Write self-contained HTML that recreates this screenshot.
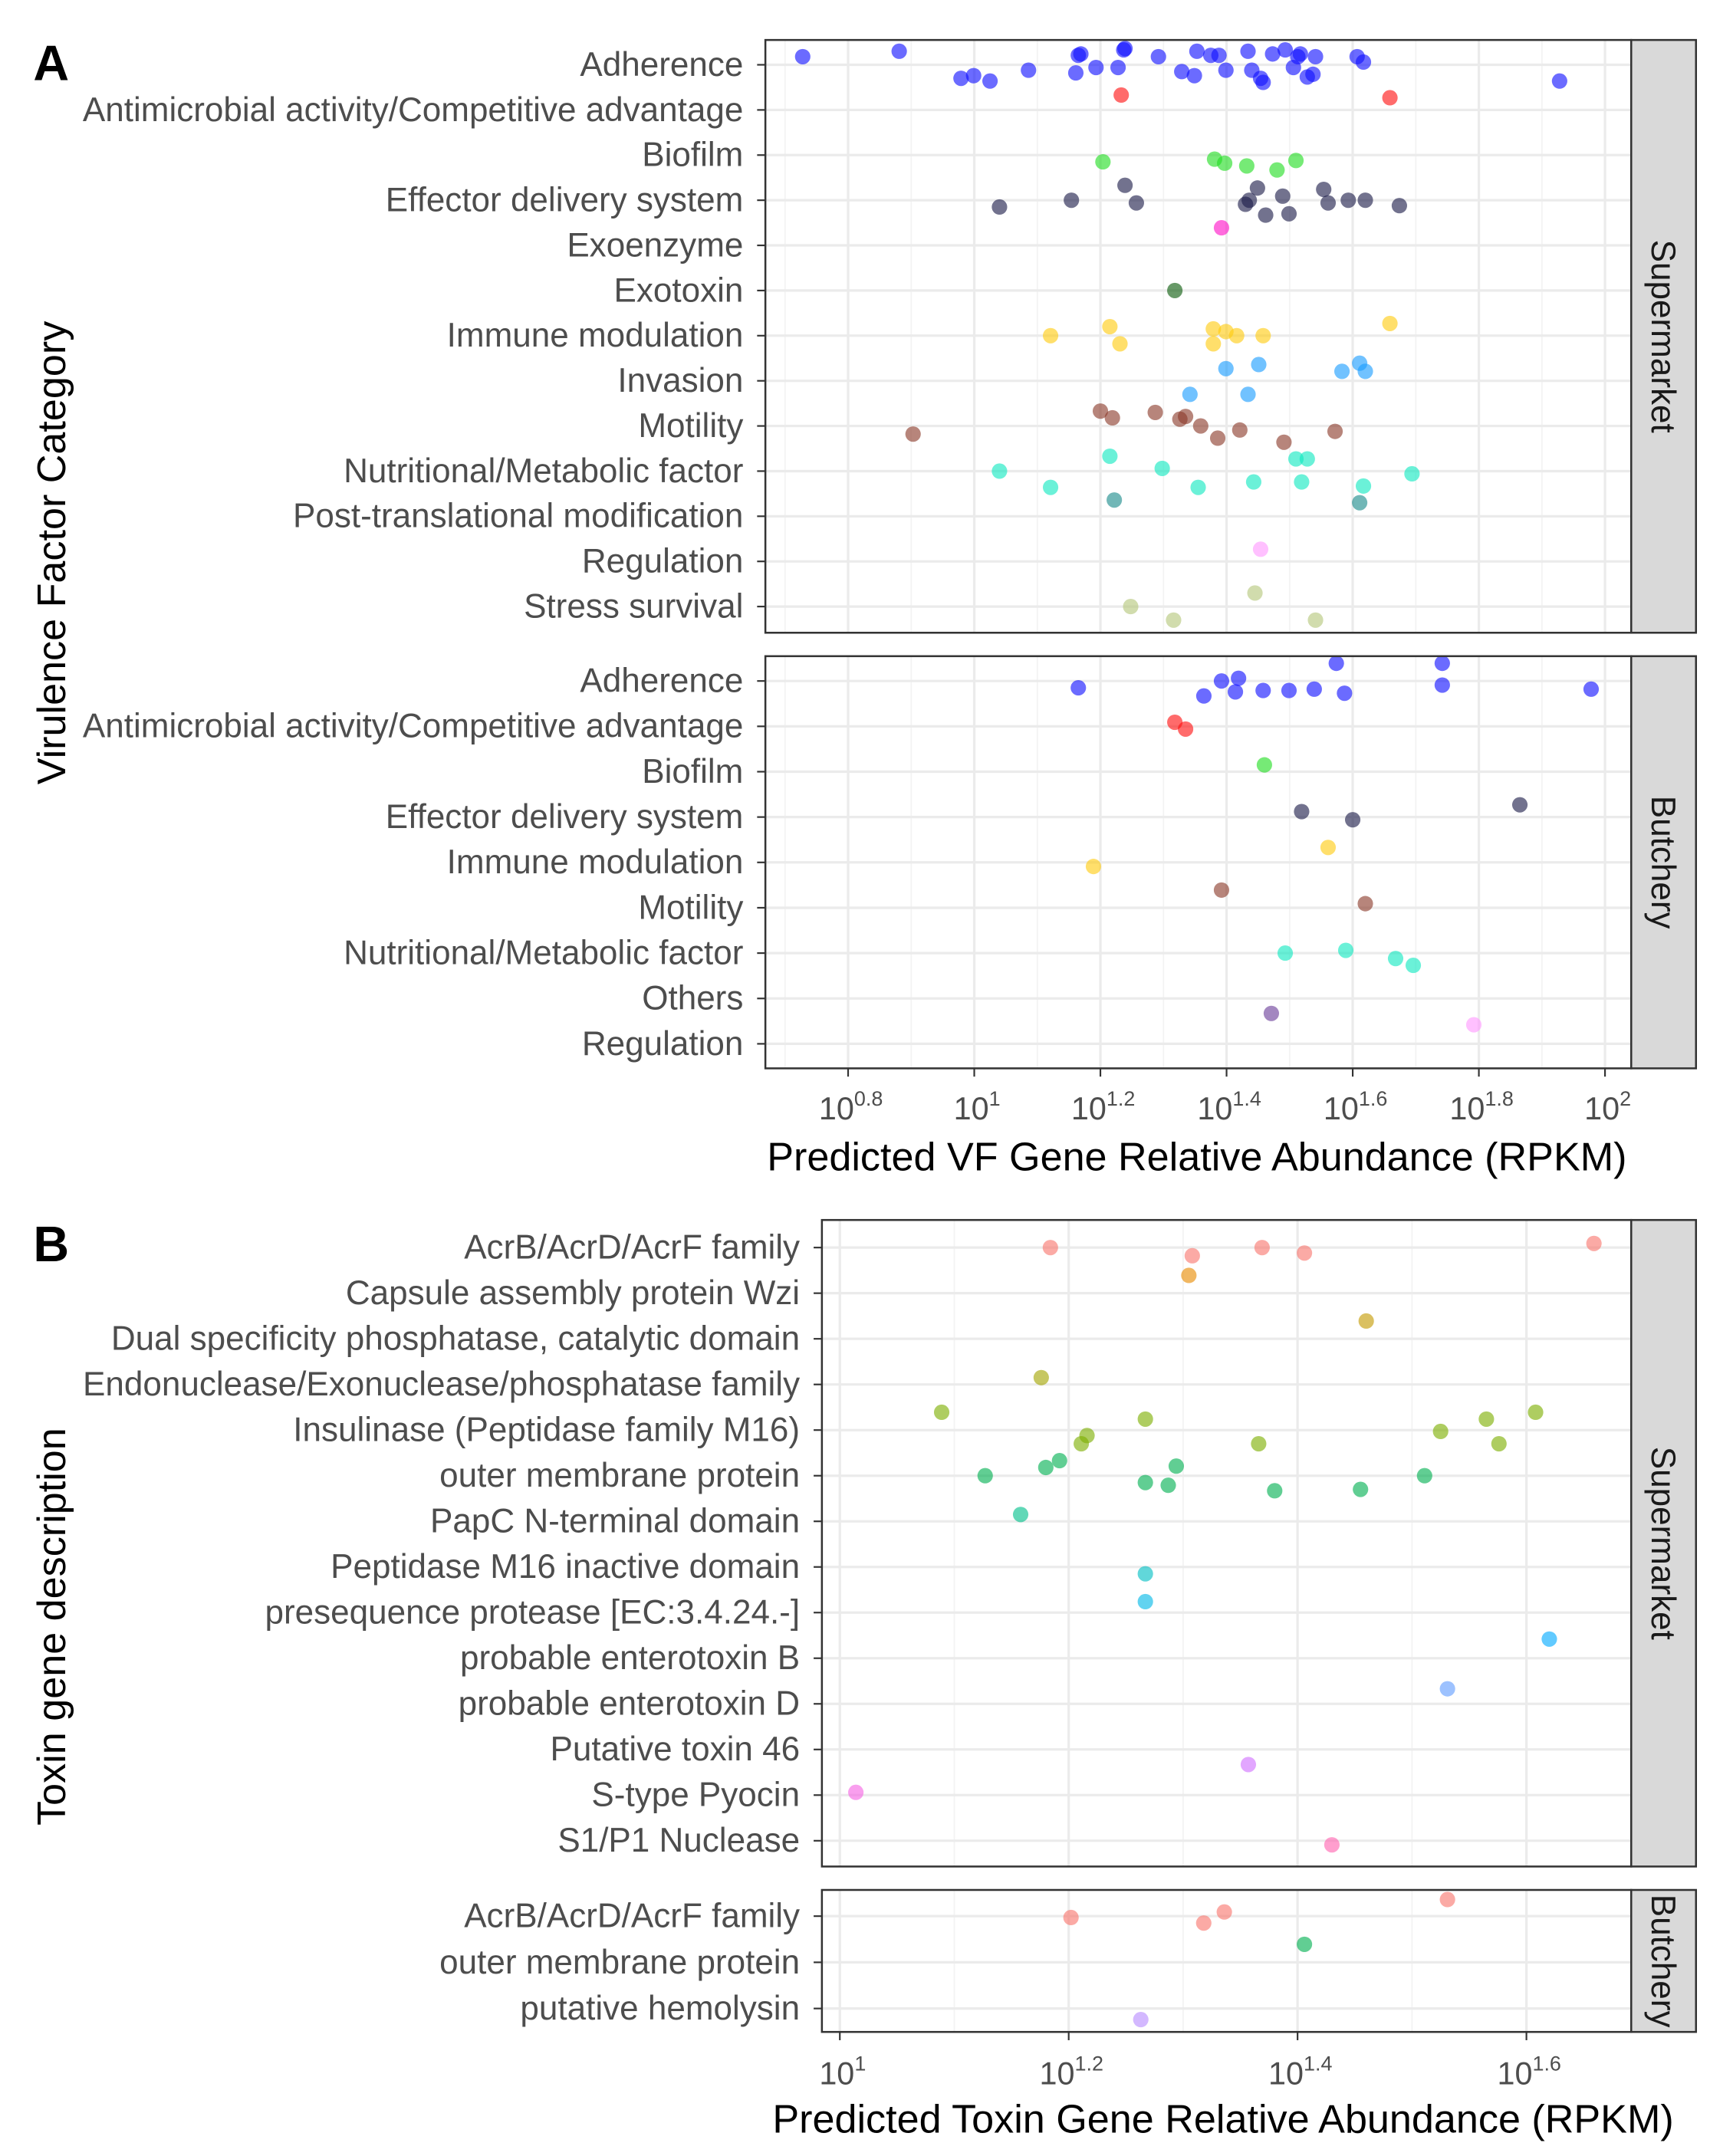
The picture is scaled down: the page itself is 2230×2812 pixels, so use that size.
<!DOCTYPE html>
<html><head><meta charset="utf-8">
<style>
html,body{margin:0;padding:0;background:#fff;}
svg{display:block;font-family:"Liberation Sans",sans-serif;}
</style></head>
<body>
<svg id="chart" width="2230" height="2812" viewBox="0 0 1240 1564" xmlns="http://www.w3.org/2000/svg">
<text x="24" y="58" font-size="36" font-weight="bold">A</text>
<text x="24" y="915" font-size="36" font-weight="bold">B</text>
<text transform="translate(47,401) rotate(-90)" text-anchor="middle" font-size="29">Virulence Factor Category</text>
<text transform="translate(47,1180) rotate(-90)" text-anchor="middle" font-size="29">Toxin gene description</text>
<text x="868" y="849" text-anchor="middle" font-size="29">Predicted VF Gene Relative Abundance (RPKM)</text>
<text x="887" y="1547" text-anchor="middle" font-size="29">Predicted Toxin Gene Relative Abundance (RPKM)</text>
<g id="plot"></g>
</svg>
<script>
// ---------- Panel A data ----------
const catsASup = ["Adherence","Antimicrobial activity/Competitive advantage","Biofilm","Effector delivery system","Exoenzyme","Exotoxin","Immune modulation","Invasion","Motility","Nutritional/Metabolic factor","Post-translational modification","Regulation","Stress survival"];
const catsABut = ["Adherence","Antimicrobial activity/Competitive advantage","Biofilm","Effector delivery system","Immune modulation","Motility","Nutritional/Metabolic factor","Others","Regulation"];
const colorsA = {"Adherence":"#1010ff","Antimicrobial activity/Competitive advantage":"#ff1010","Biofilm":"#22dd22","Effector delivery system":"#1c1c48","Exoenzyme":"#ff10c8","Exotoxin":"#0a5a0a","Immune modulation":"#ffcc10","Invasion":"#1a9cff","Motility":"#8b3a2a","Nutritional/Metabolic factor":"#10e8c0","Post-translational modification":"#1a8b8b","Regulation":"#ff99ff","Stress survival":"#b5c77a","Others":"#6a3d9a"};
const ticksA = [0.8,1.0,1.2,1.4,1.6,1.8,2.0];
const tickSupA = ["0.8","1","1.2","1.4","1.6","1.8","2"];
// [category index, log10 value, vertical jitter (row fraction)]
const ptsASup = [
[0,0.728,-0.18],[0,0.881,-0.3],[0,0.979,0.3],[0,0.999,0.24],[0,1.025,0.36],[0,1.086,0.12],[0,1.165,-0.21],[0,1.169,-0.24],[0,1.161,0.18],[0,1.193,0.06],[0,1.228,0.06],[0,1.237,-0.33],[0,1.239,-0.36],[0,1.292,-0.18],[0,1.329,0.15],[0,1.349,0.24],[0,1.353,-0.3],[0,1.375,-0.21],[0,1.388,-0.21],[0,1.399,0.12],[0,1.434,-0.3],[0,1.440,0.12],[0,1.454,0.3],[0,1.458,0.39],[0,1.473,-0.24],[0,1.493,-0.33],[0,1.506,0.06],[0,1.513,-0.18],[0,1.517,-0.24],[0,1.528,0.27],[0,1.541,-0.18],[0,1.537,0.21],[0,1.607,-0.18],[0,1.617,-0.06],[0,1.928,0.36],
[1,1.233,-0.33],[1,1.659,-0.27],
[2,1.204,0.15],[2,1.381,0.09],[2,1.397,0.18],[2,1.432,0.24],[2,1.480,0.33],[2,1.510,0.12],
[3,1.040,0.15],[3,1.154,0],[3,1.239,-0.33],[3,1.257,0.06],[3,1.430,0.09],[3,1.436,0],[3,1.449,-0.27],[3,1.462,0.33],[3,1.489,-0.09],[3,1.499,0.3],[3,1.554,-0.24],[3,1.561,0.06],[3,1.593,0],[3,1.620,0],[3,1.674,0.12],
[4,1.392,-0.39],
[5,1.318,0],
[6,1.121,0],[6,1.215,-0.2],[6,1.231,0.18],[6,1.379,-0.15],[6,1.379,0.18],[6,1.399,-0.09],[6,1.416,0],[6,1.458,0],[6,1.659,-0.27],
[7,1.342,0.3],[7,1.399,-0.27],[7,1.434,0.3],[7,1.451,-0.36],[7,1.583,-0.21],[7,1.611,-0.39],[7,1.620,-0.21],
[8,0.903,0.18],[8,1.200,-0.33],[8,1.219,-0.18],[8,1.287,-0.3],[8,1.326,-0.15],[8,1.335,-0.21],[8,1.359,0],[8,1.386,0.27],[8,1.421,0.09],[8,1.491,0.36],[8,1.572,0.12],
[9,1.040,0],[9,1.121,0.36],[9,1.215,-0.33],[9,1.298,-0.06],[9,1.355,0.36],[9,1.443,0.24],[9,1.510,-0.27],[9,1.528,-0.27],[9,1.519,0.24],[9,1.617,0.33],[9,1.694,0.06],
[10,1.222,-0.36],[10,1.611,-0.3],
[11,1.454,-0.27],
[12,1.248,0],[12,1.316,0.3],[12,1.445,-0.3],[12,1.541,0.3]
];
const ptsABut = [
[0,1.165,0.15],[0,1.364,0.33],[0,1.392,0],[0,1.414,0.24],[0,1.419,-0.06],[0,1.458,0.21],[0,1.499,0.21],[0,1.539,0.18],[0,1.574,-0.39],[0,1.587,0.27],[0,1.742,-0.39],[0,1.742,0.09],[0,1.978,0.18],
[1,1.318,-0.09],[1,1.335,0.06],
[2,1.460,-0.15],
[3,1.519,-0.12],[3,1.600,0.06],[3,1.865,-0.27],
[4,1.189,0.09],[4,1.561,-0.33],
[5,1.392,-0.39],[5,1.620,-0.09],
[6,1.493,0],[6,1.589,-0.06],[6,1.668,0.12],[6,1.696,0.27],
[7,1.471,0.33],
[8,1.792,-0.42]
];
// ---------- Panel B data ----------
const catsBSup = ["AcrB/AcrD/AcrF family","Capsule assembly protein Wzi","Dual specificity phosphatase, catalytic domain","Endonuclease/Exonuclease/phosphatase family","Insulinase (Peptidase family M16)","outer membrane protein","PapC N-terminal domain","Peptidase M16 inactive domain","presequence protease [EC:3.4.24.-]","probable enterotoxin B","probable enterotoxin D","Putative toxin 46","S-type Pyocin","S1/P1 Nuclease"];
const catsBBut = ["AcrB/AcrD/AcrF family","outer membrane protein","putative hemolysin"];
const colorsB = {"AcrB/AcrD/AcrF family":"#f8766d","Capsule assembly protein Wzi":"#e88a00","Dual specificity phosphatase, catalytic domain":"#c49a00","Endonuclease/Exonuclease/phosphatase family":"#a3a500","Insulinase (Peptidase family M16)":"#7cae00","outer membrane protein":"#00b050","PapC N-terminal domain":"#00c08b","Peptidase M16 inactive domain":"#00bfc4","presequence protease [EC:3.4.24.-]":"#00b8e7","probable enterotoxin B":"#00a9ff","probable enterotoxin D":"#619cff","Putative toxin 46":"#d070ff","S-type Pyocin":"#f564e3","S1/P1 Nuclease":"#ff64b0","putative hemolysin":"#b88cff"};
const ticksB = [1.0,1.2,1.4,1.6];
const tickSupB = ["1","1.2","1.4","1.6"];
const ptsBSup = [
[0,1.184,0],[0,1.308,0.18],[0,1.369,0],[0,1.406,0.12],[0,1.659,-0.09],
[1,1.305,-0.39],
[2,1.460,-0.39],
[3,1.176,-0.15],
[4,1.089,-0.39],[4,1.216,0.12],[4,1.211,0.3],[4,1.267,-0.24],[4,1.366,0.3],[4,1.525,0.03],[4,1.565,-0.24],[4,1.576,0.3],[4,1.608,-0.39],
[5,1.127,0],[5,1.180,-0.18],[5,1.192,-0.33],[5,1.267,0.15],[5,1.287,0.21],[5,1.294,-0.21],[5,1.380,0.33],[5,1.455,0.3],[5,1.511,0],
[6,1.158,-0.15],
[7,1.267,0.15],
[8,1.267,-0.24],
[9,1.620,-0.42],
[10,1.531,-0.33],
[11,1.357,0.33],
[12,1.014,-0.06],
[13,1.430,0.09]
];
const ptsBBut = [
[0,1.202,0.03],[0,1.318,0.15],[0,1.336,-0.09],[0,1.531,-0.36],
[1,1.406,-0.39],
[2,1.263,0.24]
];

const NS = "http://www.w3.org/2000/svg";
const root = document.getElementById("plot");
function mk(tag, attrs, parent){
  const e = document.createElementNS(NS, tag);
  for (const k in attrs) e.setAttribute(k, attrs[k]);
  (parent||root).appendChild(e);
  return e;
}

function drawPanel(o){
  const xs = v => o.x0 + (v - o.v0) * o.pxPerUnit;
  const g = mk("g", {});
  
  
  mk("rect", {x:o.left, y:o.top, width:o.right-o.left, height:o.bottom-o.top, fill:"#fff"}, g);
  for (let i=0;i<o.ticks.length-1;i++){
    const m = (o.ticks[i]+o.ticks[i+1])/2;
    mk("line",{x1:xs(m),x2:xs(m),y1:o.top,y2:o.bottom,stroke:"#f3f3f3","stroke-width":1},g);
  }
  const mBefore = o.ticks[0]-0.1, mAfter = o.ticks[o.ticks.length-1]+0.1;
  [mBefore,mAfter].forEach(m=>{ if (xs(m)>o.left && xs(m)<o.right) mk("line",{x1:xs(m),x2:xs(m),y1:o.top,y2:o.bottom,stroke:"#f3f3f3","stroke-width":1},g);});
  o.ticks.forEach(t=>{
    const gl = mk("line",{x1:xs(t),x2:xs(t),y1:o.top,y2:o.bottom,stroke:"#ebebeb","stroke-width":1.8},g);
    
    
  });
  o.cats.forEach((c,i)=>{
    const y = o.row0 + i*o.rowStep;
    const hl = mk("line",{x1:o.left,x2:o.right,y1:y,y2:y,stroke:"#ebebeb","stroke-width":1.8},g);
    
    
    mk("line",{x1:o.left-6,x2:o.left,y1:y,y2:y,stroke:"#333","stroke-width":1.2},g);
    const t = mk("text",{x:o.left-16,y:y+8,"text-anchor":"end","font-size":24.5,fill:"#4d4d4d"},g);
    t.textContent = c;
    
    
  });
  o.pts.forEach(p=>{
    const cat = o.cats[p[0]];
    const c = mk("circle",{cx:xs(p[1]),cy:o.row0 + (p[0]+p[2])*o.rowStep,r:5.6,fill:o.colors[cat],"fill-opacity":0.62},g);
    
    
  });
  mk("rect",{x:o.left,y:o.top,width:o.right-o.left,height:o.bottom-o.top,fill:"none",stroke:"#333","stroke-width":1.4},g);
  const s = mk("rect",{x:o.right,y:o.top,width:47,height:o.bottom-o.top,fill:"#d9d9d9",stroke:"#333","stroke-width":1.4},g);
  
  
  const st = mk("text",{transform:`translate(${o.right+15},${(o.top+o.bottom)/2}) rotate(90)`,"text-anchor":"middle","font-size":24.5,fill:"#1a1a1a"},g);
  st.textContent = o.strip;
  
  
  if (o.axisY){
    o.ticks.forEach((t,i)=>{
      mk("line",{x1:xs(t),x2:xs(t),y1:o.bottom,y2:o.bottom+6,stroke:"#333","stroke-width":1.2},g);
      const tx = mk("text",{x:xs(t)+2,y:o.axisY,"text-anchor":"middle","font-size":23,fill:"#4d4d4d"},g);
      
      
      const a = document.createElementNS(NS,"tspan"); a.textContent="10"; tx.appendChild(a);
      const b = document.createElementNS(NS,"tspan"); b.setAttribute("font-size","15"); b.setAttribute("dy","-10"); b.textContent=o.tickSup[i]; tx.appendChild(b);
    });
  }
}

drawPanel({name:"panel-a-supermarket",left:555,right:1183,top:29,bottom:459,x0:615,v0:0.8,pxPerUnit:457.5,ticks:ticksA,cats:catsASup,row0:47,rowStep:32.75,pts:ptsASup,colors:colorsA,strip:"Supermarket"});
drawPanel({name:"panel-a-butchery",left:555,right:1183,top:476,bottom:775,x0:615,v0:0.8,pxPerUnit:457.5,ticks:ticksA,cats:catsABut,row0:494,rowStep:32.9,pts:ptsABut,colors:colorsA,strip:"Butchery",axisY:812,tickSup:tickSupA});
drawPanel({name:"panel-b-supermarket",left:596,right:1183,top:885,bottom:1354,x0:609,v0:1.0,pxPerUnit:830,ticks:ticksB,cats:catsBSup,row0:905,rowStep:33.1,pts:ptsBSup,colors:colorsB,strip:"Supermarket"});
drawPanel({name:"panel-b-butchery",left:596,right:1183,top:1371,bottom:1474,x0:609,v0:1.0,pxPerUnit:830,ticks:ticksB,cats:catsBBut,row0:1390,rowStep:33.5,pts:ptsBBut,colors:colorsB,strip:"Butchery",axisY:1512,tickSup:tickSupB});
</script>
</body></html>
